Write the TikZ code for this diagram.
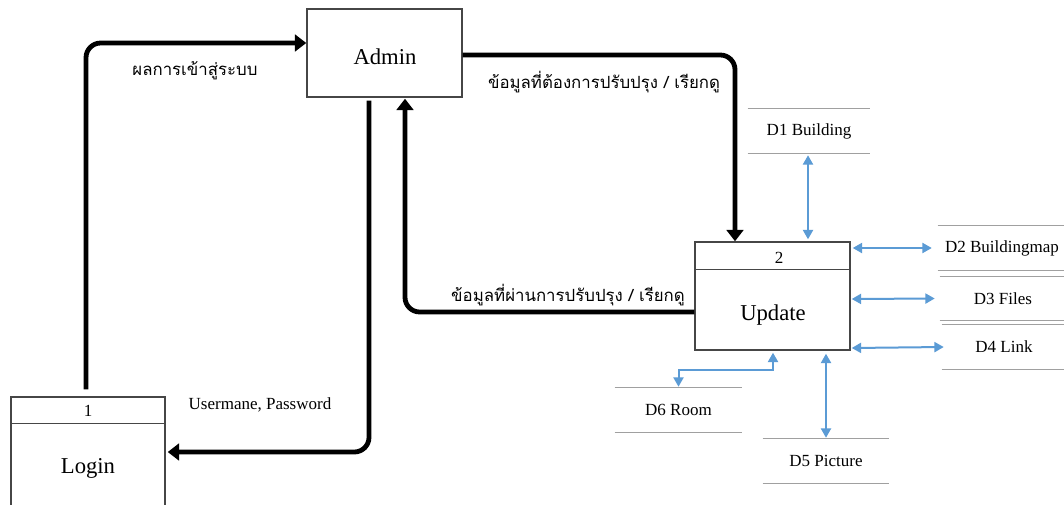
\documentclass[tikz,border=0pt]{standalone}
\usepackage{fontspec}
\setmainfont{Liberation Serif}
\newfontfamily\thaifont[Script=Thai]{Loma}
\usetikzlibrary{arrows.meta,calc}
\definecolor{dfdblue}{RGB}{91,155,213}
\definecolor{boxgray}{RGB}{70,70,70}
\definecolor{linegray}{RGB}{160,160,160}
\tikzset{
  procbox/.style={draw=boxgray, line width=1.1pt, inner sep=0pt, fill=none},
  bigtext/.style={font=\fontsize{17}{20}\selectfont, inner sep=0pt},
  smalltext/.style={font=\fontsize{12.75}{15}\selectfont, inner sep=0pt},
  thaitext/.style={font=\thaifont\fontsize{12.6}{15}\selectfont, inner sep=0pt},
  flow/.style={line width=3.6pt, black, rounded corners=11pt, -{Triangle[length=8.5pt,width=12.5pt]}},
  dataflow/.style={line width=1.5pt, dfdblue, {Triangle[length=7pt,width=7.5pt]}-{Triangle[length=7pt,width=7.5pt]}},
  store/.style={minimum height=33pt, inner sep=0pt, font=\fontsize{12.75}{15}\selectfont},
  storeline/.style={linegray, line width=0.8pt},
}
\begin{document}
\begin{tikzpicture}[x=0.75pt,y=-0.75pt]
\clip (0,0) rectangle (1064,504);
\fill[white] (0,0) rectangle (1064,504);
% process boxes
\node[procbox, minimum width=116.25pt, minimum height=66pt] (admin) at (384.5,53) {};
\node[bigtext] (admintxt) at (385,57) {Admin};
\node[procbox, minimum width=115.5pt, minimum height=84.75pt] (login) at (88,453.5) {};
\draw[boxgray, line width=1.1pt] ([yshift=-20.25pt]login.north west) -- ([yshift=-20.25pt]login.north east);
\node[smalltext] (loginnum) at (88,411) {1};
\node[bigtext] (logintxt) at (88,468) {Login};
\node[procbox, minimum width=116.25pt, minimum height=81pt] (update) at (772.5,296) {};
\draw[boxgray, line width=1.1pt] ([yshift=-21pt]update.north west) -- ([yshift=-21pt]update.north east);
\node[smalltext] (updatenum) at (779,258) {2};
\node[bigtext] (updatetxt) at (773,315) {Update};
% data stores
\node[store, minimum width=91.5pt] (d1) at (809,131) {D1 Building};
\node[store, minimum width=96pt] (d2) at (1002,248) {D2 Buildingmap};
\node[store, minimum width=94.5pt] (d3) at (1003,298.5) {D3 Files};
\node[store, minimum width=93pt] (d4) at (1004,347) {D4 Link};
\node[store, minimum width=95.25pt] (d6) at (678.5,410) {D6 Room};
\node[store, minimum width=94.5pt] (d5) at (826,461) {D5 Picture};
\foreach \s in {d1,d2,d3,d4,d5,d6}{
  \draw[storeline] (\s.north west) -- (\s.north east);
  \draw[storeline] (\s.south west) -- (\s.south east);
}
% main flows
\draw[flow] ([shift={(-2,-7)}]login.north) |- ([shift={(0,-10)}]admin.west);
\draw[flow] ([shift={(0,2)}]admin.east) -| ([shift={(-37.5,0)}]update.north);
\draw[flow] ([shift={(0,16)}]update.west) -| ([shift={(20.5,1)}]admin.south);
\draw[flow] ([shift={(-15.5,3)}]admin.south) |- ([shift={(2,-1.5)}]login.east);
% labels
\node[thaitext] (l1) at (195,71) {ผลการเข้าสู่ระบบ};
\node[thaitext] (l2) at (604,82) {ข้อมูลที่ต้องการปรับปรุง / เรียกดู};
\node[thaitext] (l3) at (568,295) {ข้อมูลที่ผ่านการปรับปรุง / เรียกดู};
\node[smalltext] (l4) at (260,405) {Usermane, Password};
% data flows
\draw[dataflow] ([shift={(-1,2)}]d1.south) -- ([shift={(35.5,-2)}]update.north);
\draw[dataflow] ([shift={(2,-48)}]update.east) -- ([shift={(-6,0)}]d2.west);
\draw[dataflow] ([shift={(1,3)}]update.east) -- ([shift={(-5,0)}]d3.west);
\draw[dataflow] ([shift={(1,52)}]update.east) -- ([shift={(2,0)}]d4.west);
\draw[dataflow] ([shift={(53.5,3)}]update.south) -- ([shift={(0,-1)}]d5.north);
\draw[dataflow] ([shift={(0.5,2)}]update.south) -- ++(0,17) -| ([shift={(0,-1)}]d6.north);
\end{tikzpicture}
\end{document}
